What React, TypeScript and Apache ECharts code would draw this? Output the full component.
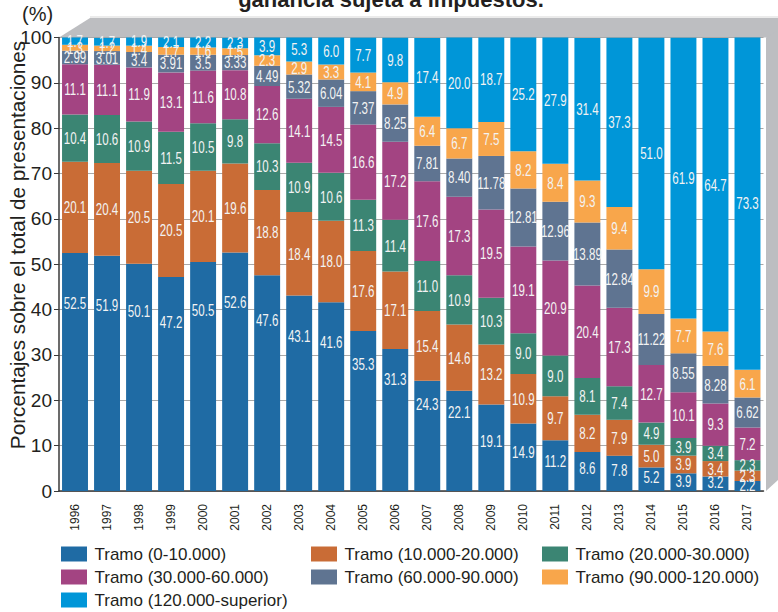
import React, { useEffect, useRef } from "react";
import * as echarts from "echarts";

const years = ["1996","1997","1998","1999","2000","2001","2002","2003","2004","2005","2006","2007","2008","2009","2010","2011","2012","2013","2014","2015","2016","2017"];

const tramo1 = ["52.5","51.9","50.1","47.2","50.5","52.6","47.6","43.1","41.6","35.3","31.3","24.3","22.1","19.1","14.9","11.2","8.6","7.8","5.2","3.9","3.2","2.2"];
const tramo2 = ["20.1","20.4","20.5","20.5","20.1","19.6","18.8","18.4","18.0","17.6","17.1","15.4","14.6","13.2","10.9","9.7","8.2","7.9","5.0","3.9","3.4","2.3"];
const tramo3 = ["10.4","10.6","10.9","11.5","10.5","9.8","10.3","10.9","10.6","11.3","11.4","11.0","10.9","10.3","9.0","9.0","8.1","7.4","4.9","3.9","3.4","2.3"];
const tramo4 = ["11.1","11.1","11.9","13.1","11.6","10.8","12.6","14.1","14.5","16.6","17.2","17.6","17.3","19.5","19.1","20.9","20.4","17.3","12.7","10.1","9.3","7.2"];
const tramo5 = ["2.99","3.01","3.4","3.91","3.5","3.33","4.49","5.32","6.04","7.37","8.25","7.81","8.40","11.78","12.81","12.96","13.89","12.84","11.22","8.55","8.28","6.62"];
const tramo6 = ["1.3","1.2","1.4","1.7","1.6","1.5","2.3","2.9","3.3","4.1","4.9","6.4","6.7","7.5","8.2","8.4","9.3","9.4","9.9","7.7","7.6","6.1"];
const tramo7 = ["1.7","1.7","1.9","2.1","2.2","2.3","3.9","5.3","6.0","7.7","9.8","17.4","20.0","18.7","25.2","27.9","31.4","37.3","51.0","61.9","64.7","73.3"];

const seriesNames = [
  "Tramo (0-10.000)",
  "Tramo (10.000-20.000)",
  "Tramo (20.000-30.000)",
  "Tramo (30.000-60.000)",
  "Tramo (60.000-90.000)",
  "Tramo (90.000-120.000)",
  "Tramo (120.000-superior)",
];
const seriesColors = ["#1f6ba4", "#c96c36", "#3b8573", "#a34482", "#5f7491", "#f8a64b", "#0096d8"];
const seriesData = [tramo1, tramo2, tramo3, tramo4, tramo5, tramo6, tramo7];

const yTicks = [0, 10, 20, 30, 40, 50, 60, 70, 80, 90, 100];

const FONT = "'Liberation Sans', Arial, sans-serif";

export default function App() {
  const ref = useRef<HTMLDivElement>(null);
  useEffect(() => {
    if (!ref.current) return;
    const chart = echarts.init(ref.current, null, { renderer: "svg" });

    const barSeries = seriesData.map((arr, si) => ({
      name: seriesNames[si],
      type: "bar",
      stack: "total",
      barWidth: "81%",
      itemStyle: { color: seriesColors[si] },
      data: arr.map(Number),
    }));

    // label items: [yearIndex, stackStart, stackEnd, seriesIndex]
    const labelItems: number[][] = [];
    years.forEach((_, i) => {
      let cum = 0;
      seriesData.forEach((arr, si) => {
        const v = Number(arr[i]);
        labelItems.push([i, cum, cum + v, si]);
        cum += v;
      });
    });

    const labelSeries = {
      type: "custom",
      silent: true,
      z: 10,
      encode: { x: 0, y: 2 },
      data: labelItems,
      renderItem: (params: any, api: any) => {
        const x = api.value(0);
        const lo = api.value(1);
        const hi = api.value(2);
        const si = api.value(3);
        const v = hi - lo;
        let yv = (lo + hi) / 2;
        if (si === 0) yv = hi - (v > 20 ? 0.21 : 0.42) * v;
        const pt = api.coord([x, yv]);
        return {
          type: "text",
          x: pt[0],
          y: pt[1],
          scaleX: 0.68,
          style: {
            text: seriesData[si][x],
            fill: "#f3f3f3",
            fontSize: 17,
            fontFamily: FONT,
            textAlign: "center",
            textVerticalAlign: "middle",
            align: "center",
            verticalAlign: "middle",
          },
        };
      },
    };

    // legend drawn as graphic
    const legendCols = [61, 311, 542];
    const legendRows = [546.5, 569.5, 592.5];
    const legendPos = [
      [0, 0], [1, 0], [2, 0],
      [0, 1], [1, 1], [2, 1],
      [0, 2],
    ];
    const legendGraphics: any[] = [];
    seriesNames.forEach((name, si) => {
      const [c, r] = legendPos[si];
      const lx = legendCols[c];
      const ly = legendRows[r];
      legendGraphics.push({
        type: "rect",
        shape: { x: lx, y: ly, width: 26, height: 15 },
        style: { fill: seriesColors[si] },
      });
      legendGraphics.push({
        type: "text",
        x: lx + 33.5,
        y: ly + 8,
        style: {
          text: name,
          fontSize: 17,
          fontFamily: FONT,
          fill: "#231f20",
          textAlign: "left",
          textVerticalAlign: "middle",
          align: "left",
          verticalAlign: "middle",
        },
      });
    });

    chart.setOption({
      animation: false,
      backgroundColor: "#ffffff",
      title: {
        text: "ganancia sujeta a impuestos.",
        left: 386,
        textAlign: "center",
        top: -17,
        textStyle: { fontFamily: FONT, fontWeight: "bold", fontSize: 22, color: "#231f20" },
      },
      graphic: [
        {
          type: "polygon",
          z: -10,
          shape: { points: [[59, 37.5], [90, 18], [800, 18], [800, 37.5]] },
          style: { fill: "#bdbec1" },
        },
        {
          type: "polygon",
          z: -10,
          shape: { points: [[766, 37.5], [800, 18], [800, 460], [766, 491]] },
          style: { fill: "#bdbec1" },
        },
        {
          type: "line",
          z: -10,
          shape: { x1: 90, y1: 17, x2: 778, y2: 17 },
          style: { stroke: "#e4e4e4", lineWidth: 1.5 },
        },
        {
          type: "text",
          left: 22,
          top: 4,
          style: { text: "(%)", fontFamily: FONT, fontSize: 20, fill: "#231f20" },
        },
        {
          type: "text",
          x: 17,
          y: 245,
          rotation: Math.PI / 2,
          style: {
            text: "Porcentajes sobre el total de presentaciones",
            fontFamily: FONT,
            fontSize: 20.7,
            fill: "#231f20",
            textAlign: "center",
            textVerticalAlign: "middle",
            align: "center",
            verticalAlign: "middle",
          },
        },
        ...legendGraphics,
      ],
      grid: { left: 59, right: 14.5, top: 37.5, bottom: 121, containLabel: false },
      xAxis: {
        type: "category",
        data: years,
        axisLine: { lineStyle: { color: "#3a3a3a", width: 1.5 } },
        axisTick: { show: false },
        axisLabel: {
          rotate: 90,
          interval: 0,
          margin: 13,
          fontFamily: FONT,
          fontSize: 12,
          color: "#231f20",
        },
      },
      yAxis: {
        type: "value",
        min: 0,
        max: 100,
        interval: 10,
        axisLine: { show: true, lineStyle: { color: "#3a3a3a", width: 1.5 } },
        axisTick: { show: true, length: 5, lineStyle: { color: "#3a3a3a" } },
        axisLabel: {
          margin: 7,
          fontFamily: FONT,
          fontSize: 19,
          color: "#231f20",
          formatter: (v: number) => (yTicks.includes(v) ? String(v) : ""),
        },
        splitLine: { show: true, lineStyle: { color: "#a9a9a9", width: 1 } },
      },
      series: [...barSeries, labelSeries],
    });
    return () => chart.dispose();
  }, []);
  return (
    <div
      ref={ref}
      style={{ position: "absolute", left: 0, top: 0, width: 778, height: 612 }}
    />
  );
}
